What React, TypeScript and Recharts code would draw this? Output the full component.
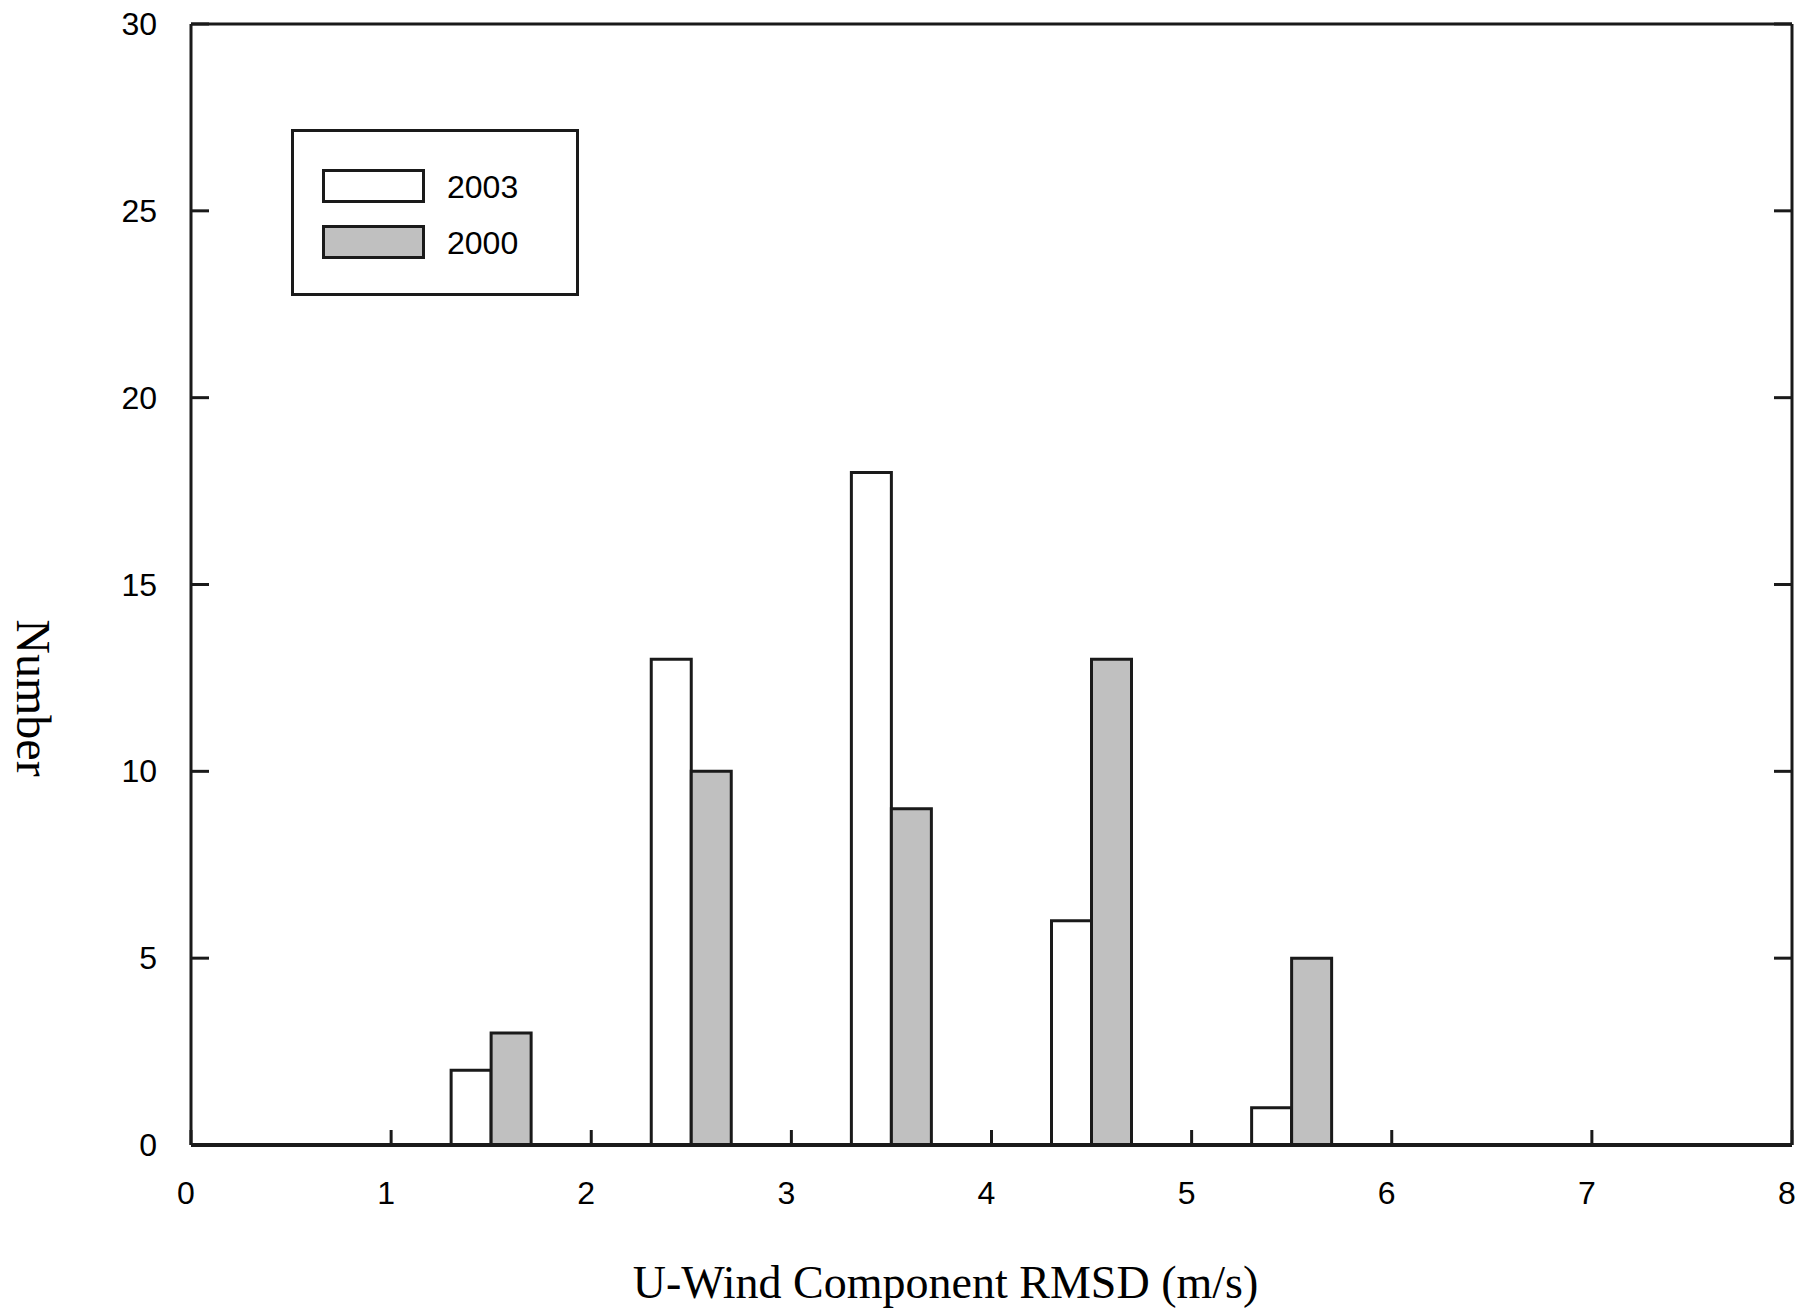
import React from "react";
import { BarChart, Bar, XAxis, YAxis, Legend, ReferenceLine } from "recharts";

// histogram bins (bin centre in m/s) and counts per year
const binCenters = [1.5, 2.5, 3.5, 4.5, 5.5];
const counts2003 = [2, 13, 18, 6, 1];
const counts2000 = [3, 10, 9, 13, 5];
const xTicks = [0, 1, 2, 3, 4, 5, 6, 7, 8];
const yTicks = [0, 5, 10, 15, 20, 25, 30];
const seriesNames = ["2003", "2000"];
const seriesFills = ["#ffffff", "#c0c0c0"];

const data = binCenters.map((x, i) => ({ x, y2003: counts2003[i], y2000: counts2000[i] }));

const INK = "#1a1a1a";
const SANS = "'Liberation Sans', Arial, sans-serif";
const SERIF = "'Liberation Serif', 'Times New Roman', serif";

const XTick = ({ x, y, payload }: any) => (
  <g>
    <line x1={x} x2={x} y1={y} y2={y - 15} stroke={INK} strokeWidth={3} />
    <text x={x - 5} y={y + 48} textAnchor="middle" dominantBaseline="central" fontSize={32} fontFamily={SANS} fill="#000">
      {payload.value}
    </text>
  </g>
);

const YTickLeft = ({ x, y, payload }: any) => (
  <g>
    <line x1={x} x2={x + 18} y1={y} y2={y} stroke={INK} strokeWidth={3} />
    <text x={x - 34} y={y} textAnchor="end" dominantBaseline="central" fontSize={32} fontFamily={SANS} fill="#000">
      {payload.value}
    </text>
  </g>
);

const YTickRight = ({ x, y }: any) => <line x1={x} x2={x - 18} y1={y} y2={y} stroke={INK} strokeWidth={3} />;

const LegendBox = () => (
  <div
    style={{
      position: "relative",
      width: 288,
      height: 167,
      boxSizing: "border-box",
      border: `3px solid ${INK}`,
      background: "#fff",
    }}
  >
    {seriesNames.map((name, i) => (
      <React.Fragment key={name}>
        <div
          style={{
            position: "absolute",
            left: 28,
            top: 37 + i * 56,
            width: 103,
            height: 34,
            boxSizing: "border-box",
            border: `3px solid ${INK}`,
            background: seriesFills[i],
          }}
        />
        <div
          style={{
            position: "absolute",
            left: 153,
            top: 38 + i * 56,
            height: 34,
            lineHeight: "34px",
            fontSize: 32,
            fontFamily: SANS,
            color: "#000",
          }}
        >
          {name}
        </div>
      </React.Fragment>
    ))}
  </div>
);

const XTitle = ({ viewBox }: any) => (
  <text
    x={viewBox.x + viewBox.width / 2 - 46}
    y={1298}
    textAnchor="middle"
    fontSize={46}
    fontFamily={SERIF}
    fill="#000"
  >
    U-Wind Component RMSD (m/s)
  </text>
);

const YTitle = () => (
  <text
    x={17}
    y={698}
    transform="rotate(90 17 698)"
    textAnchor="middle"
    fontSize={48}
    fontFamily={SERIF}
    fill="#000"
  >
    Number
  </text>
);

export default function App() {
  return (
    <div style={{ position: "absolute", left: 0, top: 0, width: 1798, height: 1312, background: "#fff" }}>
      <BarChart
        width={1798}
        height={1312}
        data={data}
        margin={{ top: 24, right: 5, bottom: 67, left: 91 }}
        barGap={0}
        barSize={40}
      >
        <XAxis
          dataKey="x"
          type="number"
          domain={[0, 8]}
          ticks={xTicks}
          allowDataOverflow
          height={100}
          tickSize={0}
          tickMargin={0}
          tick={<XTick />}
          tickLine={false}
          axisLine={{ stroke: INK, strokeWidth: 4 }}
          label={<XTitle />}
        />
        <YAxis
          type="number"
          domain={[0, 30]}
          ticks={yTicks}
          allowDataOverflow
          width={100}
          tickSize={0}
          tickMargin={0}
          tick={<YTickLeft />}
          tickLine={false}
          axisLine={{ stroke: INK, strokeWidth: 3 }}
          label={<YTitle />}
        />
        <YAxis
          yAxisId="right"
          orientation="right"
          type="number"
          domain={[0, 30]}
          ticks={yTicks}
          allowDataOverflow
          width={1}
          tickSize={0}
          tickMargin={0}
          tick={<YTickRight />}
          tickLine={false}
          axisLine={{ stroke: INK, strokeWidth: 3 }}
        />
        <ReferenceLine y={30} stroke={INK} strokeWidth={3} />
        <Legend
          layout="horizontal"
          align="center"
          verticalAlign="middle"
          content={<LegendBox />}
          wrapperStyle={{ left: 291, top: 129, width: 288, height: 167 }}
        />
        <Bar dataKey="y2003" name="2003" fill={seriesFills[0]} stroke={INK} strokeWidth={3} isAnimationActive={false} />
        <Bar dataKey="y2000" name="2000" fill={seriesFills[1]} stroke={INK} strokeWidth={3} isAnimationActive={false} />
      </BarChart>
    </div>
  );
}
